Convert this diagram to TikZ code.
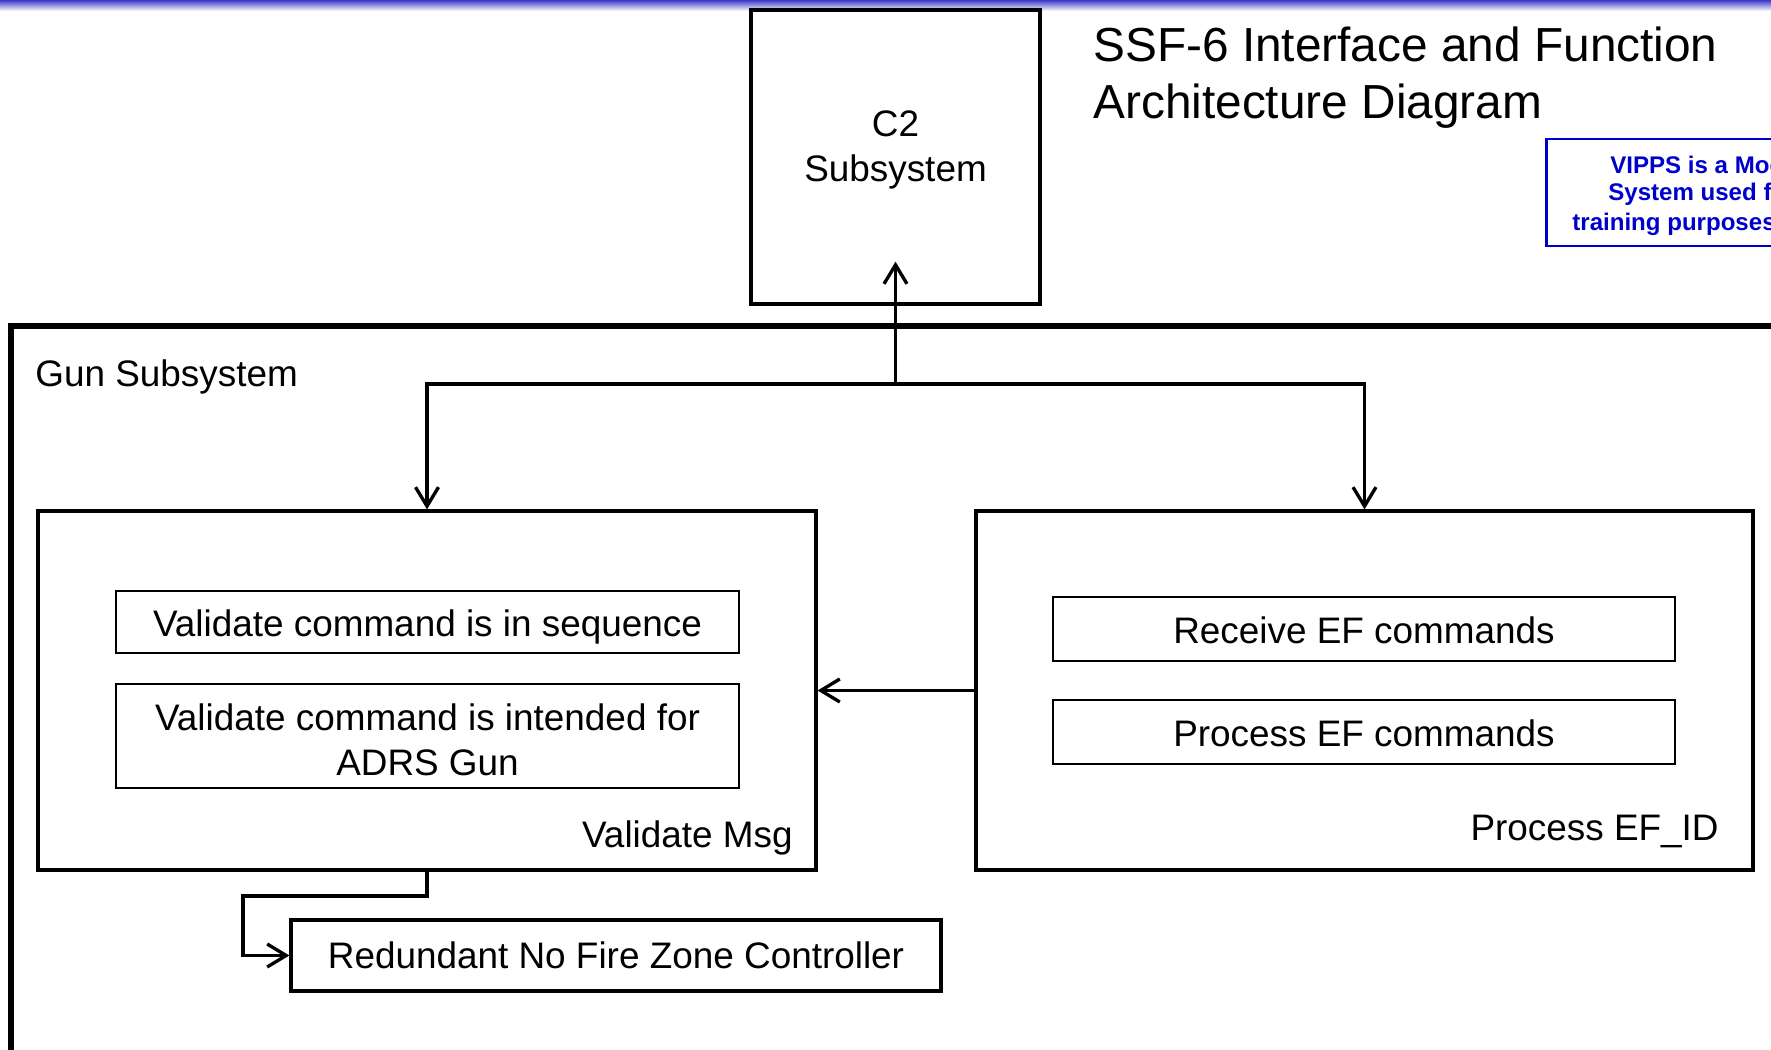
\documentclass[tikz,border=0pt]{standalone}
\usepackage{fontspec}
\setmainfont{Liberation Sans}
\usepackage{xcolor}
\usepackage{tikz}
\usetikzlibrary{calc,arrows.meta}
\definecolor{ink}{HTML}{000000}
\definecolor{vipps}{HTML}{0000CC}
\definecolor{barblue}{HTML}{3A3AC8}
\newcommand{\bodysize}{\fontsize{21}{25.6}\selectfont}
\newcommand{\titlesize}{\fontsize{27.2}{32.4}\selectfont}
\newcommand{\notesize}{\fontsize{13.7}{16.5}\selectfont}
\tikzset{
  frame/.style={draw=ink, line width=2.85pt, line join=miter},
  box/.style={draw=ink, line width=1.9pt, inner sep=0pt},
  subbox/.style={draw=ink, line width=1.2pt, inner sep=0pt, align=center, font=\bodysize,
    text height=16.5pt, text depth=0pt},
  link/.style={draw=ink, line width=1.9pt, -{Straight Barb[length=3.8mm,width=4.6mm]}},
  lab/.style={text=ink, font=\bodysize, inner sep=0pt},
  note/.style={text=vipps, font=\notesize\bfseries, inner sep=0pt, anchor=west},
}

\begin{document}
\begin{tikzpicture}[x=0.02cm, y=-0.02cm]
  \useasboundingbox (0,0) rectangle (1771,1050);
  \clip (0,0) rectangle (1771,1050);
  \shade[top color=barblue, bottom color=white] (0,0) rectangle (1771,11);

  % C2 and title
  \node[box, minimum width=5.78cm, minimum height=5.88cm] (c2) at (895.5,157) {};
  \node[lab, align=center] (c2lab) at (895.5,150) {C2\\Subsystem};
  \node[lab, font=\titlesize, align=left, anchor=west] (title) at (1093,78)
    {SSF-6 Interface and Function\\Architecture Diagram};
  \draw[vipps, line width=1.7pt] (1546,139) rectangle (1800,246);
  \node[note] (vip1) at (1610,165) {VIPPS is a Mod};
  \node[note] (vip2) at (1608,194) {System used f};
  \node[note] (vip3) at (1572,224) {training purposes};

  % gun subsystem frame
  \draw[frame] (1800,326) -| (11,1080);
  \node[lab, anchor=west] (gunlab) at (35,377) {Gun Subsystem};

  \node[box, minimum width=15.56cm, minimum height=7.18cm] (vmsg) at (427,690.5) {};
  \node[box, minimum width=15.54cm, minimum height=7.18cm] (pef) at (1364.5,690.5) {};
  \node[subbox, minimum width=12.46cm, minimum height=1.24cm] (seq) at (427.5,622)
    {Validate command is in sequence};
  \node[subbox, minimum width=12.46cm, minimum height=2.08cm] (intd) at (427.5,736) {};
  \node[lab, align=center] (intdlab) at (427.5,740)
    {Validate command is intended for\\ADRS Gun};
  \node[subbox, minimum width=12.44cm, minimum height=1.28cm] (recv) at (1364,629)
    {Receive EF commands};
  \node[subbox, minimum width=12.44cm, minimum height=1.28cm] (proc) at (1364,732)
    {Process EF commands};
  \node[lab, anchor=east] (vmsglab) at (793,838) {Validate Msg};
  \node[lab, anchor=east] (peflab) at (1719,831) {Process EF\_ID};
  \node[box, minimum width=13cm, minimum height=1.42cm, font=\bodysize] (rnfz) at (616,955.5)
    {Redundant No Fire Zone Controller};

  % connectors
  \coordinate (bus) at (c2.south |- 0,384);
  \coordinate (c2in) at ($(c2.south)+(0,-44)$);
  \coordinate (kink) at (243,896);
  \draw[link] (bus) -- (c2in);
  \draw[link, {Straight Barb[length=3.8mm,width=4.6mm]}-{Straight Barb[length=3.8mm,width=4.6mm]}]
    (vmsg.north) |- (bus) -| (pef.north);
  \draw[link] (pef.west) -- (vmsg.east);
  \draw[link] (vmsg.south) |- (kink) |- (rnfz.west);
\end{tikzpicture}
\end{document}
